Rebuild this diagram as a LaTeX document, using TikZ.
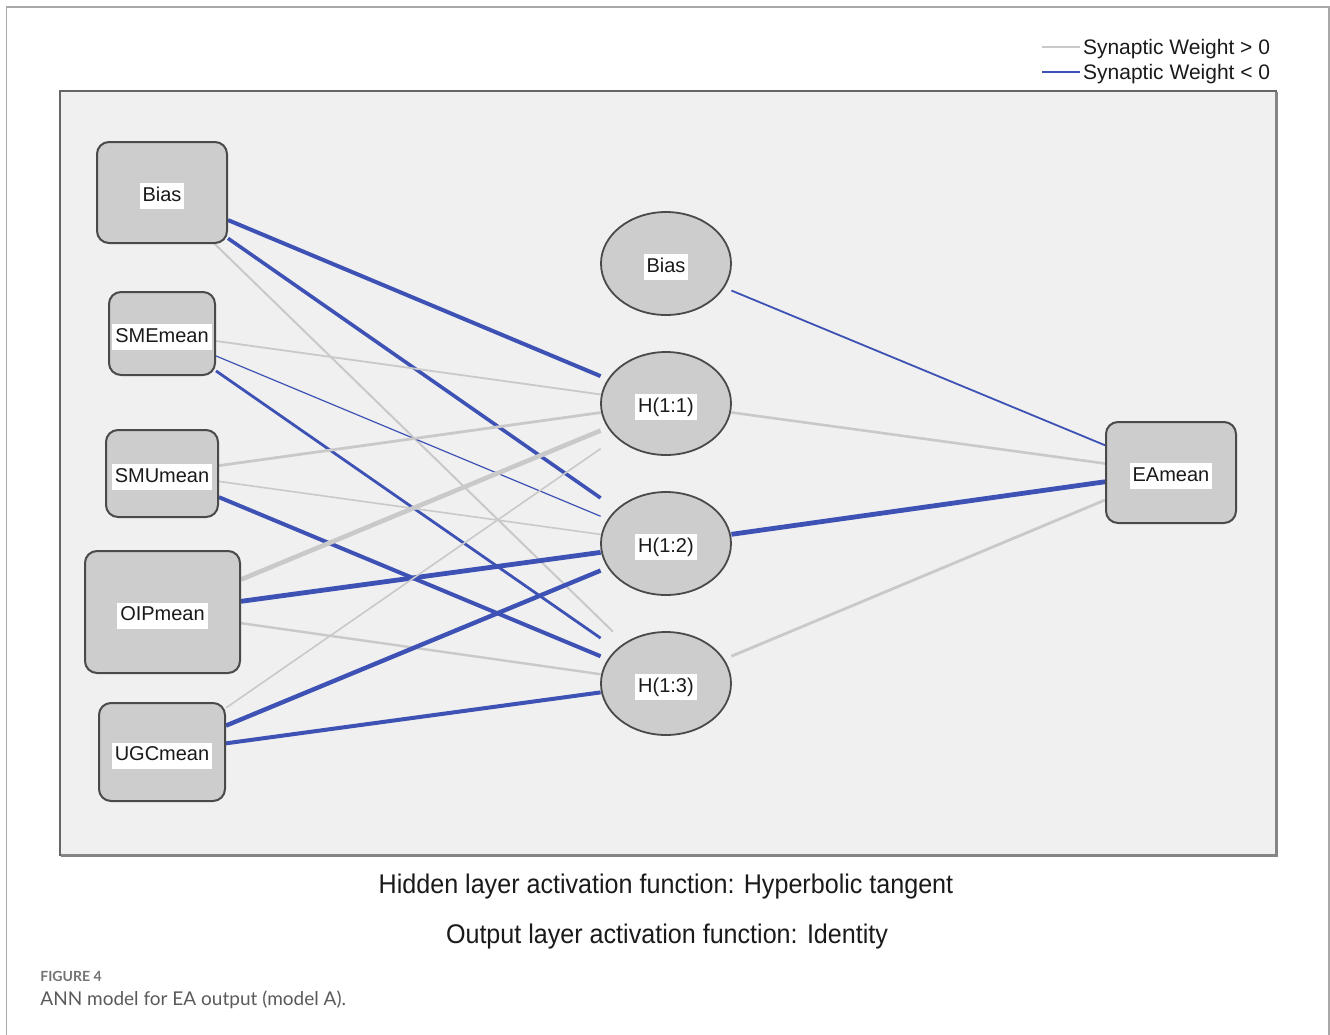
\documentclass[tikz,border=0pt]{standalone}
\usepackage{fontspec}
\setmainfont{Liberation Sans}
\newfontfamily\narrowfont[FakeStretch=0.93]{Liberation Sans}
\newfontfamily\capfont{Lato}
\usepackage{xcolor}
\usetikzlibrary{positioning,backgrounds}
\definecolor{inkK}{HTML}{1A1A1A}
\definecolor{panelFill}{HTML}{F0F0F0}
\definecolor{panelLine}{HTML}{666666}
\definecolor{frameLine}{HTML}{A8A8A8}
\definecolor{unitFill}{HTML}{CDCDCD}
\definecolor{unitLine}{HTML}{4A4A4A}
\definecolor{cPos}{HTML}{C9C9C9}
\definecolor{cNeg}{HTML}{3D52B4}
\definecolor{capGray}{HTML}{5A5A5A}

\pgfdeclarelayer{wires}
\pgfsetlayers{background,wires,main}

\tikzset{
  tagText/.style={fill=white, inner xsep=1.5pt, inner ysep=1.5pt, yshift=-1.8pt,
    text height=7.5pt, text depth=2.5pt, font=\fontsize{10}{12}\selectfont, text=inkK},
  inBox/.style={draw=unitLine, fill=unitFill, line width=1pt,
    rounded corners=6pt, inner sep=0pt},
  hidSlot/.style={rectangle, inner sep=0pt,
    minimum width=65pt, minimum height=51.5pt},
  hidOval/.style={draw=unitLine, fill=unitFill, line width=0.9pt},
  posW/.style={draw=cPos},
  negW/.style={draw=cNeg},
}

\begin{document}
\begin{tikzpicture}[x=0.5pt, y=-0.5pt]
  \useasboundingbox (0,0) rectangle (1330,1035);
  \draw[frameLine, line width=0.75pt] (6.5,1035) -- (6.5,7) -- (1329,7) -- (1329,1035);

  % panel
  \begin{scope}[on background layer]
    \draw[panelLine, fill=panelFill, line width=0.9pt] (60,91) rectangle (1276,855);
    \draw[panelLine!80, line width=1.5pt] (1276,92) -- (1276,855) -- (61,855);
  \end{scope}

  % legend
  \coordinate (lgA) at (1042,47);
  \coordinate (lgB) at (1042,72);
  \draw[posW, line width=1pt] (lgA) -- ++(38,0) node[right=1pt, inner sep=0pt, yshift=-1pt, text=inkK,
    font=\fontsize{10.5}{12}\selectfont] (lgPos) {Synaptic Weight > 0};
  \draw[negW, line width=1.2pt] (lgB) -- ++(38,0) node[right=1pt, inner sep=0pt, yshift=-1pt, text=inkK,
    font=\fontsize{10.5}{12}\selectfont] (lgNeg) {Synaptic Weight < 0};

  % input layer
  \node[inBox, minimum width=65pt, minimum height=50.5pt, label={[tagText]center:Bias}]    (iBias) at (162,192.5) {};
  \node[inBox, minimum width=53pt, minimum height=41.5pt, label={[tagText]center:SMEmean}] (iSME)  at (162,333.5) {};
  \node[inBox, minimum width=56pt, minimum height=43.5pt, label={[tagText]center:SMUmean}] (iSMU)  at (162,473.5) {};
  \node[inBox, minimum width=77.5pt, minimum height=61pt, label={[tagText]center:OIPmean}] (iOIP)  at (162.5,612) {};
  \node[inBox, minimum width=63pt, minimum height=49pt, label={[tagText]center:UGCmean}]   (iUGC)  at (162,752) {};

  % hidden layer
  \foreach \id/\y/\txt in {hBias/263.5/Bias, h1/403.5/{H(1:1)}, h2/543.5/{H(1:2)}, h3/683.5/{H(1:3)}} {
    \draw[hidOval] (666,\y) ellipse [x radius=32.5pt, y radius=25.75pt];
    \node[hidSlot, label={[tagText]center:\txt}] (\id) at (666,\y) {};
  }

  % output layer
  \node[inBox, minimum width=65pt, minimum height=50.5pt, label={[tagText]center:EAmean}] (oEA) at (1171,472.5) {};

  % synaptic weights
  \begin{pgfonlayer}{wires}
    \foreach \s/\d/\c/\w in {
      iBias/h1/negW/2.0, iBias/h2/negW/1.8, iBias/h3/posW/1.0,
      iSME/h1/posW/0.9, iSME/h2/negW/0.6, iSME/h3/negW/1.4,
      iSMU/h1/posW/1.4, iSMU/h2/posW/0.8, iSMU/h3/negW/2.0,
      iOIP/h1/posW/2.3, iOIP/h2/negW/2.4, iOIP/h3/posW/1.2,
      iUGC/h1/posW/0.8, iUGC/h2/negW/2.2, iUGC/h3/negW/2.0,
      hBias/oEA/negW/0.9, h1/oEA/posW/1.3, h2/oEA/negW/2.4, h3/oEA/posW/1.4}
      \draw[\c, line width=\w pt] (\s) -- (\d);
  \end{pgfonlayer}

  % captions
  \node[text=inkK, font=\narrowfont\fontsize{13.5}{16}\selectfont] (capHid) at (666,887) {Hidden layer activation function: Hyperbolic tangent};
  \node[text=inkK, font=\narrowfont\fontsize{13.5}{16}\selectfont] (capOut) at (667,937) {Output layer activation function: Identity};
  \node[anchor=west, inner sep=0pt, text=capGray!85, font=\capfont\bfseries\fontsize{7}{8}\selectfont] (figNo) at (40,976) {FIGURE 4};
  \node[anchor=west, inner sep=0pt, text=capGray, font=\capfont\fontsize{9.5}{11}\selectfont] (figCap) at (40,1000) {ANN model for EA output (model A).};
\end{tikzpicture}
\end{document}
